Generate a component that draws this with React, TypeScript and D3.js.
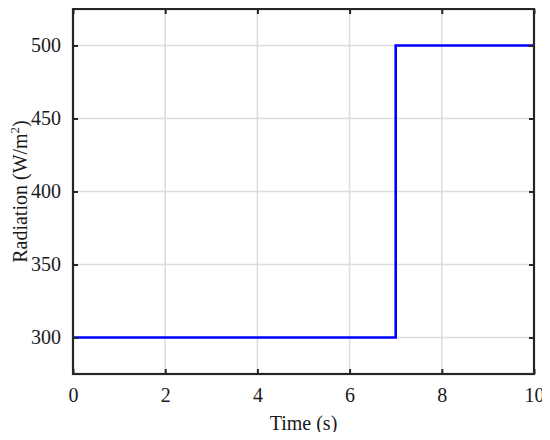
import React, { useEffect, useRef } from "react"
import * as d3 from "d3"

// step response of irradiance
const timeS = [0, 7, 7, 10]
const radiation = [300, 300, 500, 500]
const xTicks = [0, 2, 4, 6, 8, 10]
const yTicks = [300, 350, 400, 450, 500]

const W = 550
const H = 440
const margin = { top: 9, right: 16, bottom: 66, left: 73 }
const FONT = "'Liberation Serif', 'DejaVu Serif', serif"

const App = () => {
  const ref = useRef<SVGSVGElement>(null)

  useEffect(() => {
    const svg = d3.select(ref.current)
    svg.selectAll("*").remove()
    const w = W - margin.left - margin.right
    const h = H - margin.top - margin.bottom

    const x = d3.scaleLinear().domain([0, 10]).range([0, w])
    const y = d3.scaleLinear().domain([275, 525]).range([h, 0])

    const g = svg.append("g").attr("transform", `translate(${margin.left},${margin.top})`)

    // grid
    g.append("g")
      .selectAll("line")
      .data(xTicks)
      .join("line")
      .attr("x1", d => x(d)).attr("x2", d => x(d))
      .attr("y1", 0).attr("y2", h)
      .attr("stroke", "#dcdcdc").attr("stroke-width", 1.5)
    g.append("g")
      .selectAll("line")
      .data(yTicks)
      .join("line")
      .attr("y1", d => y(d)).attr("y2", d => y(d))
      .attr("x1", 0).attr("x2", w)
      .attr("stroke", "#dcdcdc").attr("stroke-width", 1.5)

    // data line
    const line = d3.line<number>()
      .x((_, i) => x(timeS[i]))
      .y(d => y(d))
    g.append("path")
      .datum(radiation)
      .attr("d", line)
      .attr("fill", "none")
      .attr("stroke", "#0000ff")
      .attr("stroke-width", 2.6)

    // axes (ticks inside, like matlab)
    const styleAxis = (sel: any) => {
      sel.attr("font-size", null).attr("font-family", null)
      sel.select(".domain").remove()
      sel.selectAll(".tick line").attr("stroke", "#262626").attr("stroke-width", 2)
      sel.selectAll(".tick text")
        .style("font-family", FONT)
        .style("font-size", "20px")
        .attr("fill", "#1a1a1a")
    }
    g.append("g")
      .attr("transform", `translate(0,${h})`)
      .call(d3.axisBottom(x).tickValues(xTicks).tickFormat(d3.format("d")).tickSizeInner(-5).tickPadding(14))
      .call(styleAxis)
    g.append("g")
      .call(d3.axisTop(x).tickValues(xTicks).tickFormat(() => "").tickSizeInner(-5))
      .call(styleAxis)
    g.append("g")
      .call(d3.axisLeft(y).tickValues(yTicks).tickFormat(d3.format("d")).tickSizeInner(-5).tickPadding(12))
      .call(styleAxis)
    g.append("g")
      .attr("transform", `translate(${w},0)`)
      .call(d3.axisRight(y).tickValues(yTicks).tickFormat(() => "").tickSizeInner(-5))
      .call(styleAxis)

    // box
    g.append("rect")
      .attr("width", w).attr("height", h)
      .attr("fill", "none")
      .attr("stroke", "#262626")
      .attr("stroke-width", 2.2)

    // labels
    svg.append("text")
      .attr("x", margin.left + w / 2)
      .attr("y", 430)
      .attr("text-anchor", "middle")
      .style("font-family", FONT)
      .style("font-size", "20px")
      .attr("fill", "#1a1a1a")
      .text("Time (s)")

    const yl = svg.append("text")
      .attr("transform", `translate(27,${margin.top + h / 2}) rotate(-90)`)
      .attr("text-anchor", "middle")
      .style("font-family", FONT)
      .style("font-size", "20px")
      .attr("fill", "#1a1a1a")
    yl.append("tspan").text("Radiation (W/m")
    yl.append("tspan").attr("dy", -8).style("font-size", "13px").text("2")
    yl.append("tspan").attr("dy", 8).text(")")
  }, [])

  return (
    <div style={{ margin: -8 }}>
      <svg ref={ref} width={W} height={H} style={{ display: "block", background: "#fff" }} />
    </div>
  )
}

export default App
